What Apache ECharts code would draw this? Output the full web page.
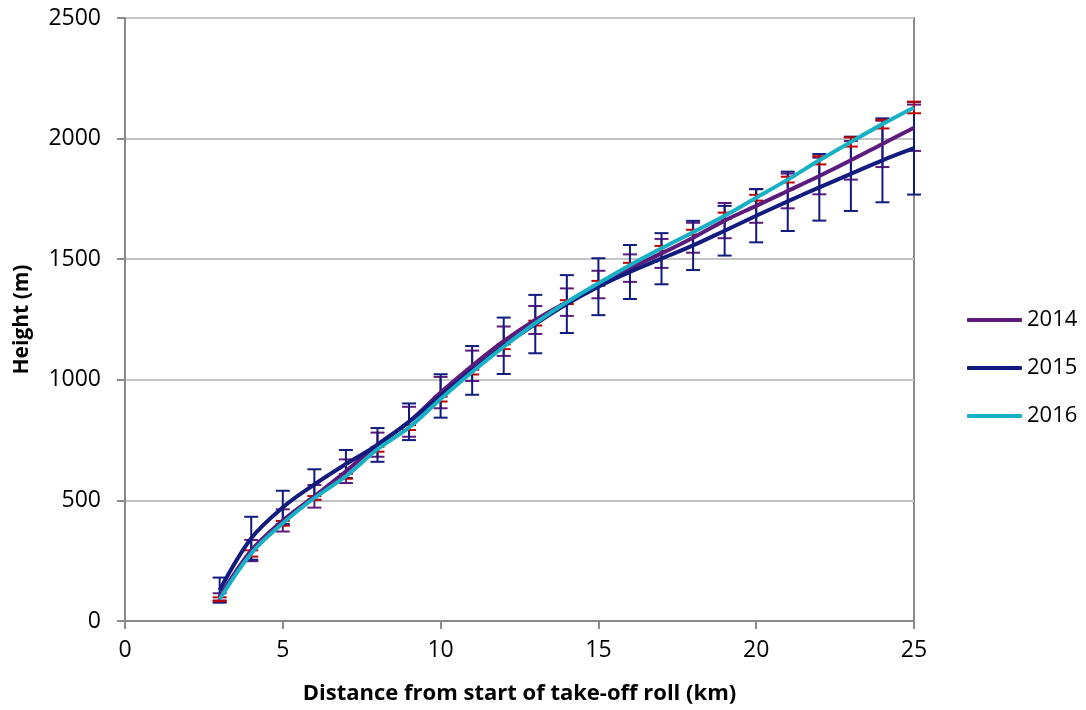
<!DOCTYPE html>
<html>
<head>
<meta charset="utf-8">
<script src="https://cdn.jsdelivr.net/npm/echarts@6/dist/echarts.min.js"></script>
<style>
html,body{margin:0;padding:0;background:#fff;}
#chart{width:1086px;height:710px;}
</style>
</head>
<body>
<div id="chart"></div>
<script>
var distances = [3,4,5,6,7,8,9,10,11,12,13,14,15,16,17,18,19,20,21,22,23,24,25];
var seriesNames = ['2014','2015','2016'];
var h2014 = [100,292,417,517,621,731,826,947,1058,1160,1248,1322,1395,1463,1524,1589,1660,1721,1783,1845,1910,1978,2045];
var e2014 = [15,44,46,47,49,50,62,65,63,61,58,57,57,57,60,62,73,70,72,76,80,96,96];
var h2015 = [128,343,471,566,651,730,826,933,1039,1141,1231,1314,1386,1447,1502,1557,1618,1680,1740,1798,1854,1910,1960];
var e2015 = [52,89,69,63,58,70,76,90,101,117,121,120,118,112,106,102,103,110,123,138,154,174,192];
var h2016 = [90,280,405,510,600,712,802,920,1032,1137,1235,1322,1400,1475,1545,1612,1680,1755,1830,1910,1986,2060,2129];
var e2016 = [8,13,10,8,10,10,10,10,10,10,10,8,10,10,10,10,13,12,12,17,19,18,24];
var xTicks = [0,5,10,15,20,25];
var yTicks = [0,500,1000,1500,2000,2500];

var lineColors = ['#5c1a7c','#121b7e','#17b1c6'];
var barColors = ['#5c1a7c','#121b7e','#c00000'];
var heights = [h2014,h2015,h2016];
var errors = [e2014,e2015,e2016];

function pairs(h){ return distances.map(function(d,i){ return [d,h[i]]; }); }
function errData(h,e){ return distances.map(function(d,i){ return [d,h[i],e[i]]; }); }

function errRender(color){
  return function(params, api){
    var x = api.value(0), v = api.value(1), e = api.value(2);
    var top = api.coord([x, v + e]);
    var bot = api.coord([x, v - e]);
    var cw = 7;
    var st = {stroke: color, lineWidth: 2};
    return {type:'group', children:[
      {type:'line', shape:{x1:top[0], y1:top[1], x2:bot[0], y2:bot[1]}, style:st},
      {type:'line', shape:{x1:top[0]-cw, y1:top[1], x2:top[0]+cw, y2:top[1]}, style:st},
      {type:'line', shape:{x1:bot[0]-cw, y1:bot[1], x2:bot[0]+cw, y2:bot[1]}, style:st}
    ]};
  };
}

var series = [];
for (var i=0;i<3;i++){
  series.push({
    type:'custom', name: seriesNames[i]+' err', renderItem: errRender(barColors[i]),
    data: errData(heights[i], errors[i]), z: 2+i, silent:true, legendHoverLink:false
  });
}
for (var j=0;j<3;j++){
  series.push({
    type:'line', name: seriesNames[j], data: pairs(heights[j]), smooth:0.35,
    showSymbol:false, symbol:'none', z: 10+j,
    lineStyle:{color: lineColors[j], width:4}, itemStyle:{color: lineColors[j]}
  });
}

var font = '"Open Sans", "Liberation Sans", sans-serif';
var chart = echarts.init(document.getElementById('chart'), null, {renderer:'canvas'});
chart.setOption({
  animation:false,
  backgroundColor:'#ffffff',
  grid:{left:125, right:172, top:18, bottom:89, show:true, borderColor:'#8a8a8a', borderWidth:2, containLabel:false},
  legend:{
    data: seriesNames, orient:'vertical', left:962, top:304, itemGap:26,
    icon:'roundRect', itemWidth:55, itemHeight:4,
    textStyle:{fontFamily:font, fontSize:22, color:'#000', padding:[0,0,0,0]}
  },
  xAxis:{
    type:'value', min:0, max:25, interval:5,
    name:'Distance from start of take-off roll (km)', nameLocation:'middle', nameGap:62,
    nameTextStyle:{fontFamily:font, fontSize:22, fontWeight:'bold', color:'#000'},
    axisLine:{show:true, onZero:false, lineStyle:{color:'#8a8a8a', width:2}},
    axisTick:{show:true, length:8, lineStyle:{color:'#8a8a8a', width:2}},
    axisLabel:{fontFamily:font, fontSize:23, color:'#000', margin:18,
      formatter:function(v){ return String(v); }},
    splitLine:{show:false}
  },
  yAxis:{
    type:'value', min:0, max:2500, interval:500,
    name:'Height (m)', nameLocation:'middle', nameGap:92, nameRotate:90,
    nameTextStyle:{fontFamily:font, fontSize:21, fontWeight:'bold', color:'#000'},
    axisLine:{show:true, lineStyle:{color:'#8a8a8a', width:2}},
    axisTick:{show:true, length:8, lineStyle:{color:'#8a8a8a', width:2}},
    axisLabel:{fontFamily:font, fontSize:23, color:'#000', margin:24,
      formatter:function(v){ return String(v); }},
    splitLine:{show:true, lineStyle:{color:'#c4c4c4', width:2}}
  },
  series: series
});
</script>
</body>
</html>
